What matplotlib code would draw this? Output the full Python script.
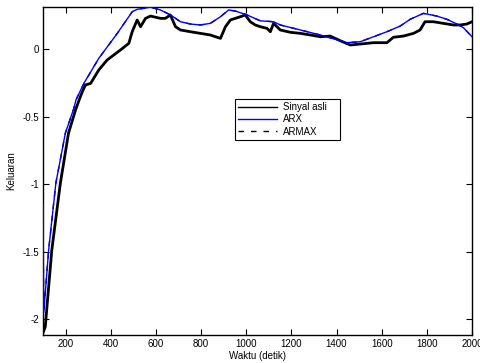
import matplotlib
matplotlib.use("Agg")
from matplotlib import pyplot as plt
import numpy as np

# waktu (detik) dan keluaran
t_asli = [100, 110, 139, 177, 213, 244, 260, 274, 288, 311, 347, 384, 443, 480,
          495, 517, 532, 554, 576, 620, 642, 664, 687, 709, 753, 797, 841, 886,
          908, 930, 952, 974, 996, 1018, 1040, 1063, 1092, 1107, 1121, 1151,
          1195, 1240, 1284, 1328, 1372, 1417, 1461, 1505, 1564, 1623, 1652,
          1696, 1741, 1770, 1792, 1829, 1873, 1918, 1947, 1977, 2000]
y_asli = [-2.10, -2.055, -1.487, -0.991, -0.622, -0.451, -0.377, -0.316, -0.266,
          -0.254, -0.155, -0.081, -0.007, 0.042, 0.128, 0.215, 0.165, 0.227,
          0.244, 0.227, 0.227, 0.252, 0.165, 0.141, 0.128, 0.116, 0.104, 0.079,
          0.165, 0.215, 0.227, 0.239, 0.252, 0.202, 0.178, 0.165, 0.153, 0.128,
          0.190, 0.141, 0.124, 0.116, 0.104, 0.091, 0.096, 0.061, 0.030, 0.037,
          0.047, 0.047, 0.087, 0.096, 0.116, 0.141, 0.202, 0.202, 0.190, 0.178,
          0.178, 0.185, 0.202]

t_arx = [100, 103, 125, 157, 199, 237, 246, 281, 347, 429, 495, 517, 545, 576,
         620, 665, 709, 753, 797, 841, 886, 922, 952, 1004, 1062, 1121, 1151,
         1240, 1328, 1417, 1446, 1505, 1564, 1623, 1682, 1726, 1785, 1844,
         1889, 1933, 1962, 2000]
y_arx = [-1.154, -1.953, -1.487, -0.991, -0.622, -0.437, -0.377, -0.254, -0.069,
         0.116, 0.276, 0.294, 0.301, 0.310, 0.289, 0.252, 0.202, 0.185, 0.178,
         0.190, 0.239, 0.289, 0.281, 0.252, 0.209, 0.202, 0.178, 0.141, 0.104,
         0.061, 0.047, 0.054, 0.091, 0.128, 0.170, 0.220, 0.264, 0.244, 0.220,
         0.185, 0.158, 0.091]

# ARMAX tertutup oleh garis ARX
t_armax = t_arx
y_armax = y_arx

plt.rcParams['font.family'] = ['Liberation Sans', 'DejaVu Sans']

fig = plt.figure(figsize=(4.81, 3.63), dpi=100)
ax = fig.add_axes([0.0894, 0.0771, 0.8919, 0.9036])

ax.plot(t_asli, y_asli, '-', color='black', lw=2.0, label='Sinyal asli', zorder=2)
ax.plot(t_arx, y_arx, '-', color='blue', lw=1.0, label='ARX', zorder=3)
ax.plot(t_armax, y_armax, '--', color='black', lw=1.0, dashes=(4, 5),
        label='ARMAX', zorder=1)

ax.set_xlim(100, 2000)
ax.set_ylim(-2.116, 0.311)
ax.set_xticks(np.arange(200, 2001, 200))
ax.set_yticks([-2, -1.5, -1, -0.5, 0])
ax.set_yticklabels(['-2', '-1.5', '-1', '-0.5', '0'])
ax.tick_params(direction='in', top=True, right=True, length=4, width=0.8,
               labelsize=7, pad=3)
for s in ax.spines.values():
    s.set_linewidth(1.0)

ax.set_xlabel('Waktu (detik)', fontsize=7, labelpad=1)
ax.set_ylabel('Keluaran', fontsize=7, labelpad=4)

leg = ax.legend(loc='upper left', bbox_to_anchor=(0.4476, 0.6006, 0.2448, 0.1189),
                mode='expand', fontsize=7,
                fancybox=False, framealpha=1, edgecolor='black',
                handlelength=4.0, handletextpad=0.6, borderpad=0.3,
                labelspacing=0.25, borderaxespad=0)
leg.get_frame().set_linewidth(0.8)
leg.get_lines()[0].set_linewidth(1.0)

fig.savefig('out.png', dpi=100)
